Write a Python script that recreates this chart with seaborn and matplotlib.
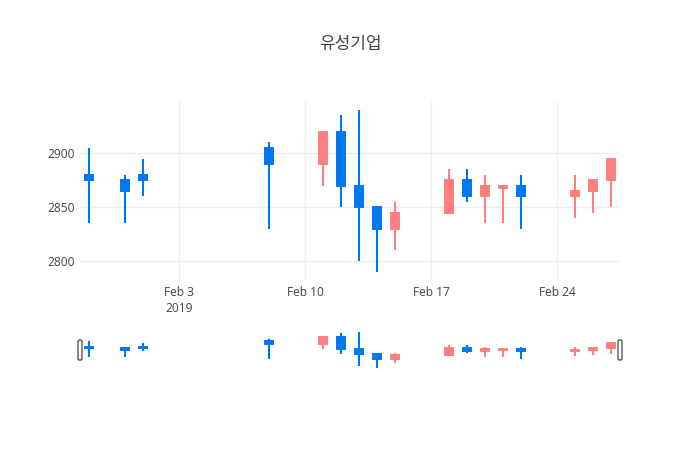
import numpy as np
import pandas as pd
import matplotlib
matplotlib.use('Agg')
import matplotlib.pyplot as plt
import matplotlib.dates as mdates
from matplotlib.patches import FancyBboxPatch
from matplotlib.transforms import IdentityTransform
import seaborn as sns

title = '유성기업'
dates = ['2019-01-29', '2019-01-31', '2019-02-01', '2019-02-08', '2019-02-11',
         '2019-02-12', '2019-02-13', '2019-02-14', '2019-02-15', '2019-02-18',
         '2019-02-19', '2019-02-20', '2019-02-21', '2019-02-22', '2019-02-25',
         '2019-02-26', '2019-02-27']
opens = [2880, 2875, 2880, 2905, 2890, 2920, 2870, 2850, 2830, 2845,
         2875, 2860, 2868, 2870, 2860, 2865, 2875]
highs = [2905, 2880, 2895, 2910, 2920, 2935, 2940, 2850, 2855, 2885,
         2885, 2880, 2870, 2880, 2880, 2875, 2895]
lows = [2835, 2835, 2860, 2830, 2870, 2850, 2800, 2790, 2810, 2845,
        2855, 2835, 2835, 2830, 2840, 2845, 2850]
closes = [2875, 2865, 2875, 2890, 2920, 2870, 2850, 2830, 2845, 2875,
          2860, 2870, 2870, 2860, 2865, 2875, 2895]

x_ticks = ['2019-02-03', '2019-02-10', '2019-02-17', '2019-02-24']
x_tick_labels = ['Feb 3\n2019', 'Feb 10', 'Feb 17', 'Feb 24']
y_ticks = [2800, 2850, 2900]

UP = '#FF7F7F'
DOWN = '#0077F2'
TXT = '#444444'

sns.set_theme(style='white')
plt.rcParams['font.family'] = ['Open Sans', 'DejaVu Sans']

df = pd.DataFrame({'date': pd.to_datetime(dates), 'open': opens, 'high': highs,
                   'low': lows, 'close': closes})
df['color'] = np.where(df['close'] >= df['open'], UP, DOWN)
df['bottom'] = df[['open', 'close']].min(axis=1)
df['height'] = (df['close'] - df['open']).abs()

fig = plt.figure(figsize=(7, 4.5), dpi=100)
ax = fig.add_axes([80/700, (450-280)/450, 540/700, 178/450])
axs = fig.add_axes([80/700, (450-370)/450, 540/700, 39.5/450])

xmin = pd.Timestamp('2019-01-28 12:00')
xmax = pd.Timestamp('2019-02-27 12:00')
lo, hi = min(lows), max(highs)
pad = (hi - lo) * 0.05

for a in (ax, axs):
    a.vlines(df['date'], df['low'], df['high'], colors=df['color'], linewidth=1.5, zorder=3)
    a.bar(df['date'], df['height'], bottom=df['bottom'], width=0.46,
          color=df['color'], edgecolor=df['color'], linewidth=1.4, zorder=4)
    a.set_xlim(xmin, xmax)
    a.set_ylim(lo - pad, hi + pad)
    sns.despine(ax=a, left=True, bottom=True, right=True, top=True)

ax.set_xticks(pd.to_datetime(x_ticks))
ax.set_xticklabels(x_tick_labels)
ax.set_yticks(y_ticks)
ax.grid(True, color='#eeeeee', linewidth=1)
ax.tick_params(axis='both', length=0, labelsize=8.64, colors=TXT)
ax.tick_params(axis='x', pad=4)
ax.tick_params(axis='y', pad=4)
for lab in ax.get_xticklabels():
    lab.set_linespacing(1.35)

axs.set_xticks([])
axs.set_yticks([])
axs.grid(False)

for px in (80, 620):
    h = FancyBboxPatch((px - 2, 90), 4, 20, boxstyle='round,pad=0,rounding_size=1.5',
                       transform=IdentityTransform(), facecolor='white',
                       edgecolor='#444444', linewidth=0.9, zorder=10)
    fig.patches.append(h)

fig.text(0.5, 1 - 44/450, title, ha='center', va='center', fontsize=12.24,
         color=TXT, family=['Noto Sans CJK KR', 'DejaVu Sans'])

fig.savefig('out.png', dpi=100)
